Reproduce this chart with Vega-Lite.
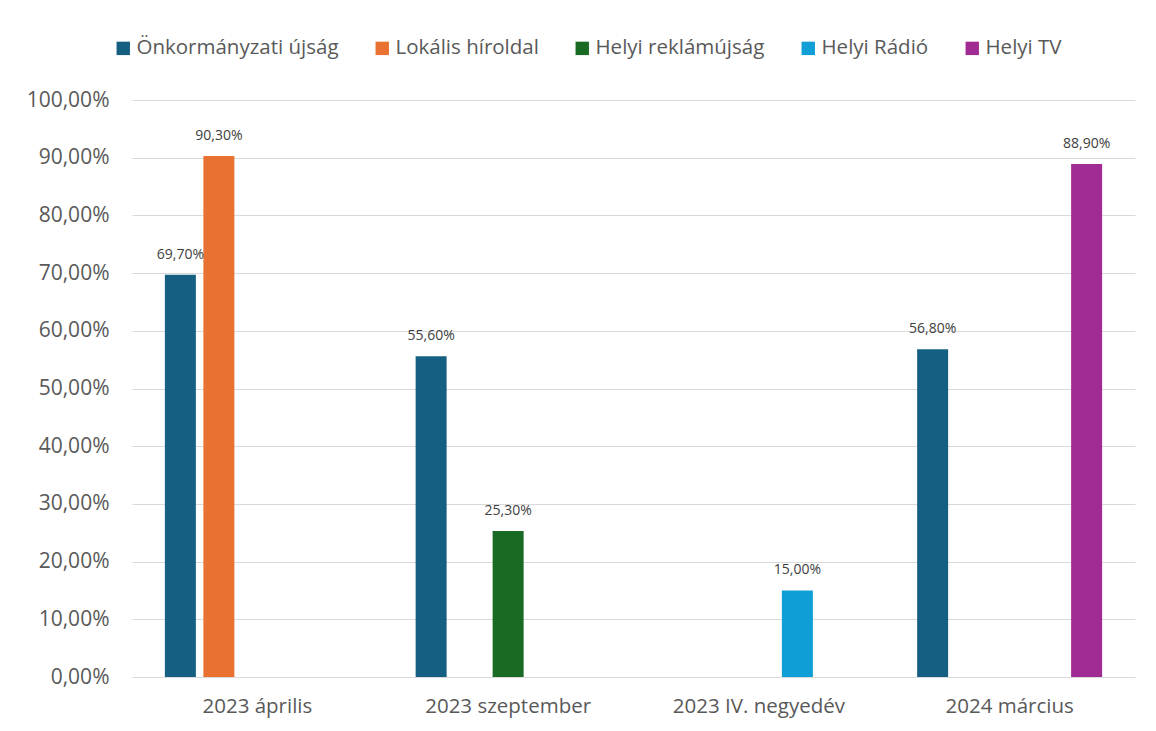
{
  "$schema": "https://vega.github.io/schema/vega-lite/v6.json",
  "width": 1003,
  "height": 577,
  "autosize": {"type": "none"},
  "padding": {"left": 132, "top": 100, "right": 21, "bottom": 54},
  "background": "white",
  "data": {
    "values": [
      {"period": "2023 április", "series": "Önkormányzati újság", "value": 0.697},
      {"period": "2023 április", "series": "Lokális híroldal", "value": 0.903},
      {"period": "2023 szeptember", "series": "Önkormányzati újság", "value": 0.556},
      {"period": "2023 szeptember", "series": "Helyi reklámújság", "value": 0.253},
      {"period": "2023 IV. negyedév", "series": "Helyi Rádió", "value": 0.15},
      {"period": "2024 március", "series": "Önkormányzati újság", "value": 0.568},
      {"period": "2024 március", "series": "Helyi TV", "value": 0.889}
    ]
  },
  "encoding": {
    "x": {
      "field": "period", "type": "nominal",
      "sort": ["2023 április", "2023 szeptember", "2023 IV. negyedév", "2024 március"],
      "scale": {"paddingInner": 0, "paddingOuter": 0},
      "axis": {"title": null, "labelAngle": 0, "domain": false, "ticks": false, "labelPadding": 19, "labelFontSize": 20.5, "labelColor": "#595959", "labelFont": "Open Sans"}
    },
    "xOffset": {
      "field": "series", "type": "nominal",
      "scale": {"domain": ["Önkormányzati újság", "Lokális híroldal", "Helyi reklámújság", "Helyi Rádió", "Helyi TV"], "paddingInner": 0.195, "paddingOuter": 0.854}
    },
    "y": {
      "field": "value", "type": "quantitative",
      "scale": {"domain": [0, 1], "nice": false},
      "axis": {"title": null, "format": ".2%", "values": [0, 0.1, 0.2, 0.3, 0.4, 0.5, 0.6, 0.7, 0.8, 0.9, 1], "domain": false, "ticks": false, "labelPadding": 23, "labelFontSize": 21, "labelColor": "#595959", "labelFont": "Open Sans", "gridColor": "#d9d9d9", "gridWidth": 1}
    }
  },
  "layer": [
    {
      "mark": {"type": "bar"},
      "encoding": {
        "color": {
          "field": "series", "type": "nominal",
          "scale": {"domain": ["Önkormányzati újság", "Lokális híroldal", "Helyi reklámújság", "Helyi Rádió", "Helyi TV"], "range": ["#156082", "#E97132", "#196B24", "#0F9ED5", "#A02B93"]},
          "legend": {"title": null, "orient": "none", "legendX": -19, "legendY": -62, "direction": "horizontal", "columns": 5, "symbolType": "square", "symbolSize": 180, "symbolStrokeWidth": 0, "labelFontSize": 20.5, "labelColor": "#595959", "labelFont": "Open Sans", "labelLimit": 400, "columnPadding": 33, "labelOffset": 3}
        }
      }
    },
    {
      "mark": {"type": "text", "baseline": "middle", "dy": -20, "fontSize": 14, "font": "Open Sans", "color": "#404040"},
      "encoding": {"text": {"field": "value", "type": "quantitative", "format": ".2%"}}
    }
  ],
  "config": {
    "view": {"stroke": null},
    "locale": {"number": {"decimal": ",", "thousands": " ", "grouping": [3], "currency": ["", " Ft"]}}
  }
}
